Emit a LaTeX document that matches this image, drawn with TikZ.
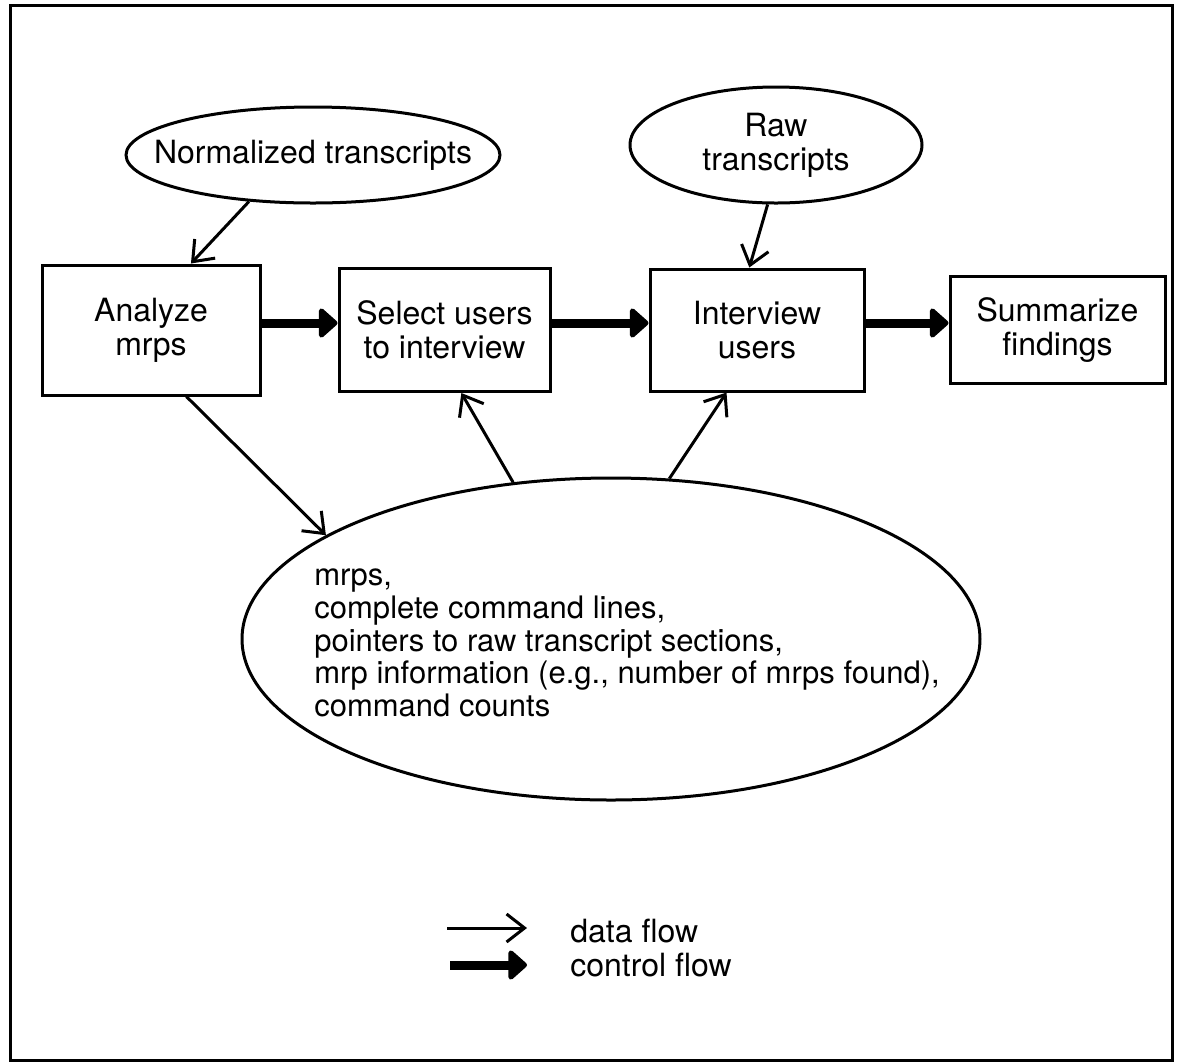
\documentclass[tikz,border=0pt]{standalone}
\usepackage{fontspec}
\setmainfont{TeX Gyre Heros}
\usetikzlibrary{positioning,shapes.geometric,arrows.meta}

\begin{document}
\begin{tikzpicture}[x=0.5pt, y=-0.5pt,
    box/.style={rectangle, draw, line width=1.5pt, inner sep=0pt,
                align=center, font=\fontsize{16}{17}\selectfont},
    ellip/.style={ellipse, draw, line width=1.5pt, inner sep=0pt,
                  align=center, font=\fontsize{16}{17}\selectfont},
    dflow/.style={-{Straight Barb[length=9pt,width=14pt]}, line width=1.5pt},
    cflow/.style={-{Triangle[round,length=10pt,width=17pt]}, line width=4.5pt},
    legtext/.style={anchor=west, inner sep=0pt, font=\fontsize{16}{17}\selectfont}
]
    \useasboundingbox (0,0) rectangle (1180,1062);
    \draw[line width=1.5pt] (10,5) rectangle (1172,1060);

    \node[ellip, inner xsep=-13.5pt, minimum width=187pt, minimum height=48pt] (norm) at (313,155) {Normalized transcripts};
    \node[ellip, minimum width=146pt, minimum height=58pt] (raw)  at (776,145) {Raw\\transcripts};

    \node[box, minimum width=109pt, minimum height=65pt] (anlz) at (151,330) {Analyze\\mrps};
    \node[box, minimum width=105.5pt, minimum height=61.5pt, right=38pt of anlz] (sel)  {Select users\\to interview};
    \node[box, minimum width=107pt, minimum height=61pt, right=48.5pt of sel]    (intv) {Interview\\users};
    \node[box, minimum width=107.5pt, minimum height=53.5pt, right=41.5pt of intv] (summ) {Summarize\\findings};

    \node[ellip, minimum width=369pt, minimum height=161pt] (data) at (611,639) {};
    \node[align=left, inner sep=0pt, font=\fontsize{15.5}{16.3}\selectfont] (datatxt)
        at ([xshift=8pt,yshift=-2pt]data.center)
        {mrps,\\complete command lines,\\pointers to raw transcript sections,\\mrp information (e.g., number of mrps found),\\command counts};

    \draw[dflow] (norm.-144) -- (anlz.59);
    \draw[dflow] (raw.-98)   -- (intv.97);
    \draw[dflow] (anlz.-62)  -- (data.160);
    \draw[dflow] (data.122)  -- (sel.-75);
    \draw[dflow] (data.70)   -- (intv.-116);

    \draw[cflow] ([yshift=3.5pt]anlz.east) -- ([yshift=3.5pt]sel.west);
    \draw[cflow] ([yshift=3.5pt]sel.east)  -- ([yshift=3.5pt]intv.west);
    \draw[cflow] ([yshift=3.5pt]intv.east) -- ([yshift=3.5pt]intv.east -| summ.west);

    \coordinate (dfrom) at (447,928);
    \coordinate (dto)   at (527,928);
    \coordinate (cfrom) at (450,965);
    \coordinate (cto)   at (527,965);
    \draw[dflow] (dfrom) -- (dto);
    \draw[cflow] (cfrom) -- (cto);
    \node[legtext] (dlab) at (570,931) {data flow};
    \node[legtext] (clab) at (570,965) {control flow};
\end{tikzpicture}
\end{document}
